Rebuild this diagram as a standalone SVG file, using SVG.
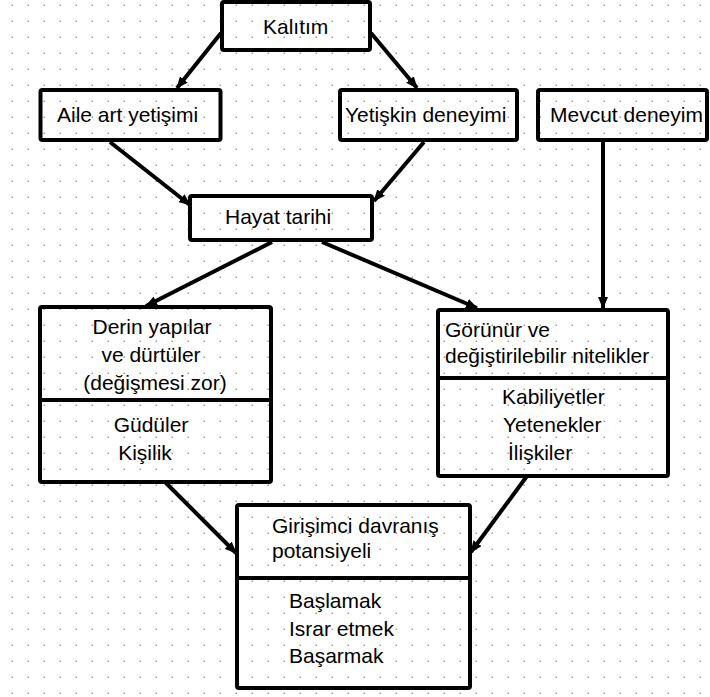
<svg xmlns="http://www.w3.org/2000/svg" width="710" height="697" viewBox="0 0 710 697">
<style>
.box{fill:none;stroke:#000;stroke-width:4;stroke-linejoin:round}
.div{stroke:#000;stroke-width:4}
.t{font-family:"Liberation Sans",Arial,sans-serif;font-size:21px;fill:#000}
.c{text-anchor:middle}
.con{stroke:#000;stroke-width:4;fill:none;marker-end:url(#ah)}
</style>
<defs>
<pattern id="grid" patternUnits="userSpaceOnUse" width="16" height="16">
<rect x="11.5" y="4.5" width="1.5" height="1.5" fill="#9a9a9a"/>
</pattern>
<marker id="ah" markerUnits="userSpaceOnUse" markerWidth="12" markerHeight="10" refX="11" refY="5" orient="auto">
<path d="M0,0 L12,5 L0,10 z" fill="#000"/>
</marker>
</defs>
<rect width="710" height="697" fill="#fff"/>
<rect width="710" height="697" fill="url(#grid)"/>
<g id="connectors">
<path class="con" d="M221,33 L177,88"/>
<path class="con" d="M371,33 L417,88"/>
<path class="con" d="M110,142 L190,205"/>
<path class="con" d="M424,142 L374,201"/>
<path class="con" d="M603,142 L603,308"/>
<path class="con" d="M272,242 L146,306"/>
<path class="con" d="M322,242 L477,308"/>
<path class="con" d="M165,482 L236,553"/>
<path class="con" d="M527,476 L471,552"/>
</g>
<g id="kalitim">
<rect class="box" x="222" y="2" width="148" height="48" rx="2"/>
<text class="t" x="263" y="34">Kalıtım</text>
</g>
<g id="aile">
<rect class="box" x="40.5" y="90" width="180" height="50" rx="2"/>
<text class="t" x="57" y="122">Aile art yetişimi</text>
</g>
<g id="yetiskin">
<rect class="box" x="340" y="90" width="177" height="50" rx="2"/>
<text class="t" x="345" y="122">Yetişkin deneyimi</text>
</g>
<g id="mevcut">
<rect class="box" x="538" y="90" width="169" height="50" rx="2"/>
<text class="t" x="550" y="122">Mevcut deneyim</text>
</g>
<g id="hayat">
<rect class="box" x="190" y="196" width="182" height="44" rx="2"/>
<text class="t" x="225" y="224">Hayat tarihi</text>
</g>
<g id="derin">
<rect class="box" x="40" y="307" width="231" height="175" rx="2"/>
<line class="div" x1="40" y1="400" x2="271" y2="400"/>
<text class="t c" x="152" y="334">Derin yapılar</text>
<text class="t c" x="151" y="362">ve dürtüler</text>
<text class="t c" x="155" y="390">(değişmesi zor)</text>
<text class="t c" x="151" y="432">Güdüler</text>
<text class="t c" x="145" y="460">Kişilik</text>
</g>
<g id="gorunur">
<rect class="box" x="438" y="310" width="230" height="166" rx="2"/>
<line class="div" x1="438" y1="378" x2="668" y2="378"/>
<text class="t" x="445" y="337">Görünür ve</text>
<text class="t" x="445" y="363">değiştirilebilir nitelikler</text>
<text class="t" x="502" y="404">Kabiliyetler</text>
<text class="t" x="503" y="432">Yetenekler</text>
<text class="t" x="508" y="460">İlişkiler</text>
</g>
<g id="girisimci">
<rect class="box" x="237" y="505" width="233" height="183" rx="2"/>
<line class="div" x1="237" y1="578" x2="470" y2="578"/>
<text class="t" x="272" y="533">Girişimci davranış</text>
<text class="t" x="272" y="558">potansiyeli</text>
<text class="t" x="289" y="608">Başlamak</text>
<text class="t" x="289" y="636">Israr etmek</text>
<text class="t" x="289" y="663">Başarmak</text>
</g>
</svg>
